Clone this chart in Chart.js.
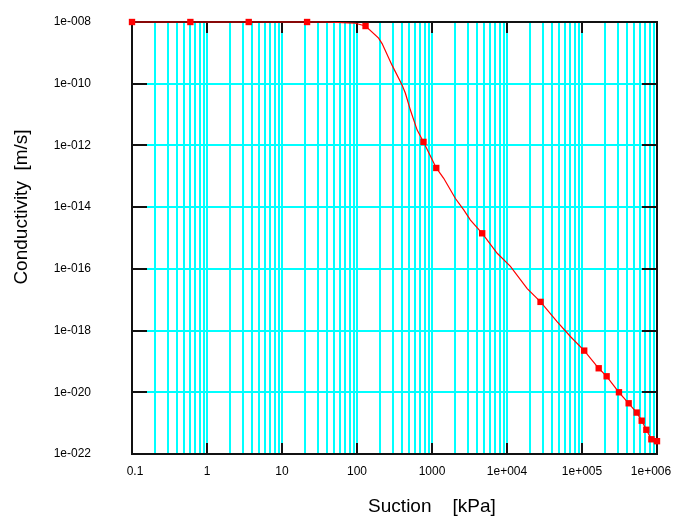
<!DOCTYPE html>
<html>
<head>
<meta charset="utf-8">
<script src="https://cdn.jsdelivr.net/npm/chart.js@4.4.1/dist/chart.umd.min.js"></script>
<style>
  body { margin: 0; background: #fff; }
  #wrap { width: 673px; height: 516px; position: relative; }
</style>
</head>
<body>
<div id="wrap"><canvas id="conductivity-chart"></canvas></div>
<script>
// curve (suction in kPa, conductivity in m/s)
const curveSuction = [0.1, 0.6, 3.6, 21.6, 38, 95, 130, 194, 216, 293, 399, 442, 515, 632, 770,
    1140, 1432, 2052, 2650, 3257, 4670, 7400, 11100, 18600, 28000, 46800, 70500, 107000,
    167000, 213000, 311000, 419000, 536000, 625000, 721000, 841000, 1000000];
const curveK = [1e-8, 1e-8, 1e-8, 1e-8, 1e-8, 9.1e-9, 7.4e-9, 3.0e-9, 2.0e-9, 4.0e-10, 9.1e-11,
    4.9e-11, 1.4e-11, 3.2e-12, 1.3e-12, 1.86e-13, 8.6e-14, 1.9e-14, 8.1e-15, 3.8e-15, 1.42e-15,
    3.2e-16, 1.2e-16, 2.3e-17, 8.5e-18, 1.9e-18, 6.3e-19, 2.24e-19, 6.0e-20, 3.3e-20, 1.0e-20,
    4.4e-21, 2.2e-21, 1.2e-21, 6.1e-22, 3.0e-22, 2.6e-22];

// points drawn as square markers
const markerSuction = [0.1, 0.6, 3.6, 21.6, 130, 770, 1140, 4670, 28000, 107000, 167000,
    213000, 311000, 419000, 536000, 625000, 721000, 841000, 1000000];
const markerK = [1e-8, 1e-8, 1e-8, 1e-8, 7.4e-9, 1.3e-12, 1.86e-13, 1.42e-15, 8.5e-18, 2.24e-19,
    6.0e-20, 3.3e-20, 1.0e-20, 4.4e-21, 2.2e-21, 1.2e-21, 6.1e-22, 3.0e-22, 2.6e-22];

const xTickValues = [0.1, 1, 10, 100, 1000, 1e4, 1e5, 1e6];
const xTickLabels = ['0.1', '1', '10', '100', '1000', '1e+004', '1e+005', '1e+006'];
const yTickValues = [1e-8, 1e-10, 1e-12, 1e-14, 1e-16, 1e-18, 1e-20, 1e-22];
const yTickLabels = ['1e-008', '1e-010', '1e-012', '1e-014', '1e-016', '1e-018', '1e-020', '1e-022'];

const xTitle = 'Suction    [kPa]';
const yTitle = 'Conductivity  [m/s]';

function toPoints(xs, ys) {
    return xs.map((v, i) => ({ x: v, y: ys[i] }));
}

// 1..9 times every decade between the first and last labelled tick
function minorXTicks() {
    const out = [];
    for (let i = 0; i < xTickValues.length - 1; i++) {
        for (let m = 1; m < 10; m++) {
            out.push({ value: Number((m * xTickValues[i]).toPrecision(12)) });
        }
    }
    out.push({ value: xTickValues[xTickValues.length - 1] });
    return out;
}

const framePlugin = {
    id: 'frame',
    beforeDraw(chart) {
        // the end labels sit slightly inside, like the original
        const items = chart.scales.x.getLabelItems();
        items.forEach(it => {
            if (it._moved) return;
            if (it.label === xTickLabels[0]) it.options.translation[0] += 3;
            if (it.label === xTickLabels[xTickLabels.length - 1]) it.options.translation[0] -= 6;
            it._moved = true;
        });
    },
    beforeDatasetsDraw(chart) {
        const { ctx, chartArea: a, scales: { x, y } } = chart;
        ctx.save();
        ctx.strokeStyle = '#111';
        ctx.lineWidth = 2;
        ctx.strokeRect(a.left, a.top, a.right - a.left, a.bottom - a.top);
        ctx.beginPath();
        xTickValues.forEach(v => {
            const px = Math.round(x.getPixelForValue(v));
            ctx.moveTo(px, a.bottom); ctx.lineTo(px, a.bottom - 11);
            ctx.moveTo(px, a.top); ctx.lineTo(px, a.top + 11);
        });
        yTickValues.forEach(v => {
            const py = Math.round(y.getPixelForValue(v));
            ctx.moveTo(a.left, py); ctx.lineTo(a.left + 15, py);
            ctx.moveTo(a.right, py); ctx.lineTo(a.right - 15, py);
        });
        ctx.stroke();
        ctx.restore();
    },
    afterDraw(chart) {
        const { ctx } = chart;
        ctx.save();
        ctx.fillStyle = '#000';
        ctx.font = '19px "Liberation Sans", Arial, sans-serif';
        ctx.textAlign = 'center';
        ctx.textBaseline = 'middle';
        ctx.fillText(xTitle, 432, 507);
        ctx.translate(22, 207);
        ctx.rotate(-Math.PI / 2);
        ctx.fillText(yTitle, 0, 0);
        ctx.restore();
    }
};

const tickFont = { family: '"Liberation Sans", Arial, sans-serif', size: 12 };

new Chart(document.getElementById('conductivity-chart'), {
    type: 'scatter',
    data: {
        datasets: [
            {
                data: toPoints(markerSuction, markerK),
                showLine: false,
                pointStyle: 'rect',
                pointRadius: 4.5,
                pointBackgroundColor: '#ff0000',
                pointBorderWidth: 0,
                clip: false
            },
            {
                data: toPoints(curveSuction, curveK),
                showLine: true,
                borderColor: '#ff0000',
                borderWidth: 1.2,
                pointRadius: 0,
                tension: 0,
                clip: false
            }
        ]
    },
    options: {
        responsive: true,
        maintainAspectRatio: false,
        animation: false,
        events: [],
        layout: { padding: { top: 22, right: 16, left: 0, bottom: 0 } },
        plugins: {
            legend: { display: false },
            tooltip: { enabled: false }
        },
        scales: {
            x: {
                type: 'logarithmic',
                min: 0.1,
                max: 1e6,
                afterBuildTicks: scale => { scale.ticks = minorXTicks(); },
                afterFit: scale => {
                    scale.height = 62;
                    scale.paddingLeft = 0;
                    scale.paddingRight = 0;
                },
                grid: { color: '#00ffff', lineWidth: 2, drawTicks: false },
                border: { display: false },
                ticks: {
                    autoSkip: false,
                    maxRotation: 0,
                    padding: 10,
                    color: '#000',
                    font: tickFont,
                    callback: value => {
                        const i = xTickValues.findIndex(v => Math.abs(v - value) < v * 1e-9);
                        return i >= 0 ? xTickLabels[i] : '';
                    }
                }
            },
            y: {
                type: 'logarithmic',
                min: 1e-22,
                max: 1e-8,
                afterBuildTicks: scale => { scale.ticks = yTickValues.map(v => ({ value: v })); },
                afterFit: scale => {
                    scale.width = 132;
                    scale.paddingTop = 0;
                    scale.paddingBottom = 0;
                },
                grid: { color: '#00ffff', lineWidth: 2, drawTicks: false },
                border: { display: false },
                ticks: {
                    autoSkip: false,
                    padding: 41,
                    color: '#000',
                    font: tickFont,
                    callback: value => {
                        const i = yTickValues.findIndex(v => Math.abs(v - value) < v * 1e-9);
                        return i >= 0 ? yTickLabels[i] : '';
                    }
                }
            }
        }
    },
    plugins: [framePlugin]
});
</script>
</body>
</html>
